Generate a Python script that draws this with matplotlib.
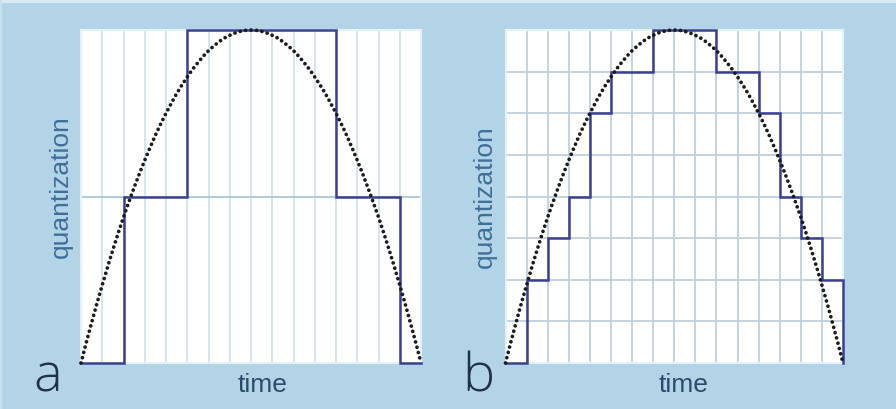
import matplotlib
matplotlib.use("Agg")
import matplotlib.pyplot as plt
from matplotlib.patches import Rectangle

# ---- data ----
sample_edges = list(range(17))              # 16 sampling intervals
time_fine = [k * 0.25 for k in range(65)]    # times for the analog signal
signal_rise = [0, .062, .121, .179, .234, .288, .340, .390, .438, .483, .527, .569,
               .609, .647, .684, .718, .750, .780, .809, .835, .859, .882, .902, .921,
               .938, .952, .965, .976, .984, .991, .996, .999, 1.0]
signal_fall = [.999, .996, .991, .984, .976, .965, .952, .938, .921, .902, .882, .859,
               .835, .809, .780, .750, .718, .684, .647, .609, .569, .527, .483, .438,
               .390, .340, .288, .234, .179, .121, .062, 0]
signal = signal_rise + signal_fall

levels_a = 2
quant_a = [0, 0, 1, 1, 1, 2, 2, 2, 2, 2, 2, 2, 1, 1, 1, 0]
levels_b = 8
quant_b = [0, 2, 3, 4, 6, 7, 7, 8, 8, 8, 7, 7, 6, 4, 3, 2]

panel_letters = ["a", "b"]
xlabel = "time"
ylabel = "quantization"

# ---- styling ----
W, H = 896, 409
BG = "#b3d4e7"
STEP_C = "#3a4190"
DOT_C = "#1c1c1c"

fig = plt.figure(figsize=(W / 100, H / 100), dpi=100)
fig.patch.set_facecolor(BG)
# light frame strips at top/left
fig.add_artist(Rectangle((0, 1 - 3 / H), 1, 3 / H, transform=fig.transFigure,
                         facecolor="#d9eaf3", edgecolor="none"))
fig.add_artist(Rectangle((0, 0), 2 / W, 1, transform=fig.transFigure,
                         facecolor="#c6e0ee", edgecolor="none"))


def px_axes(x0, y0, x1, y1):
    return fig.add_axes([x0 / W, 1 - y1 / H, (x1 - x0) / W, (y1 - y0) / H])


def draw_panel(ax, quant, nlev, vgrid_c, hgrid_c):
    ax.set_facecolor("white")
    ax.set_xlim(0, 16)
    ax.set_ylim(0, nlev)
    for x in range(1, 16):
        ax.axvline(x, color=vgrid_c, lw=1.3, zorder=1)
    for y in range(1, nlev):
        ax.axhline(y, color=hgrid_c, lw=1.3, zorder=1)
    ax.set_xticks([])
    ax.set_yticks([])
    for s in ax.spines.values():
        s.set_color("#e4f3fb")
        s.set_linewidth(1.5)
    xs = sample_edges + [16]
    ys = quant + [quant[-1], 0]
    ax.plot(xs, ys, drawstyle="steps-post", color=STEP_C, lw=1.8, zorder=3,
            clip_on=False, solid_joinstyle="miter")
    sig = [v * nlev for v in signal]
    ax.plot(time_fine, sig, color=DOT_C, lw=2.7, linestyle=(0, (0.01, 1.45)),
            dash_capstyle="round", zorder=4, clip_on=False)


ax_a = px_axes(81, 30, 421, 363)
draw_panel(ax_a, quant_a, levels_a, "#d3e3ec", "#a9c8da")
ax_b = px_axes(505.5, 30, 843, 363)
draw_panel(ax_b, quant_b, levels_b, "#bfd0dc", "#bfd0dc")

lab_font = "Liberation Sans"
for (qx, qy, tx, lx, letter) in [(61, 187, 263, 48, panel_letters[0]),
                                 (485, 197, 684, 478, panel_letters[1])]:
    fig.text(qx / W, 1 - qy / H, ylabel, rotation=90, ha="center", va="center",
             fontsize=19, color="#3f6f98", family=lab_font)
    fig.text(tx / W, 1 - 385 / H, xlabel, ha="center", va="center",
             fontsize=19, color="#2c4b6c", family=lab_font)
    fig.text(lx / W, 1 - 392 / H, letter, ha="center", va="baseline",
             fontsize=39, color="#1f3149", family="Open Sans", fontweight="light")

fig.savefig("out.png", dpi=100, facecolor=BG)
